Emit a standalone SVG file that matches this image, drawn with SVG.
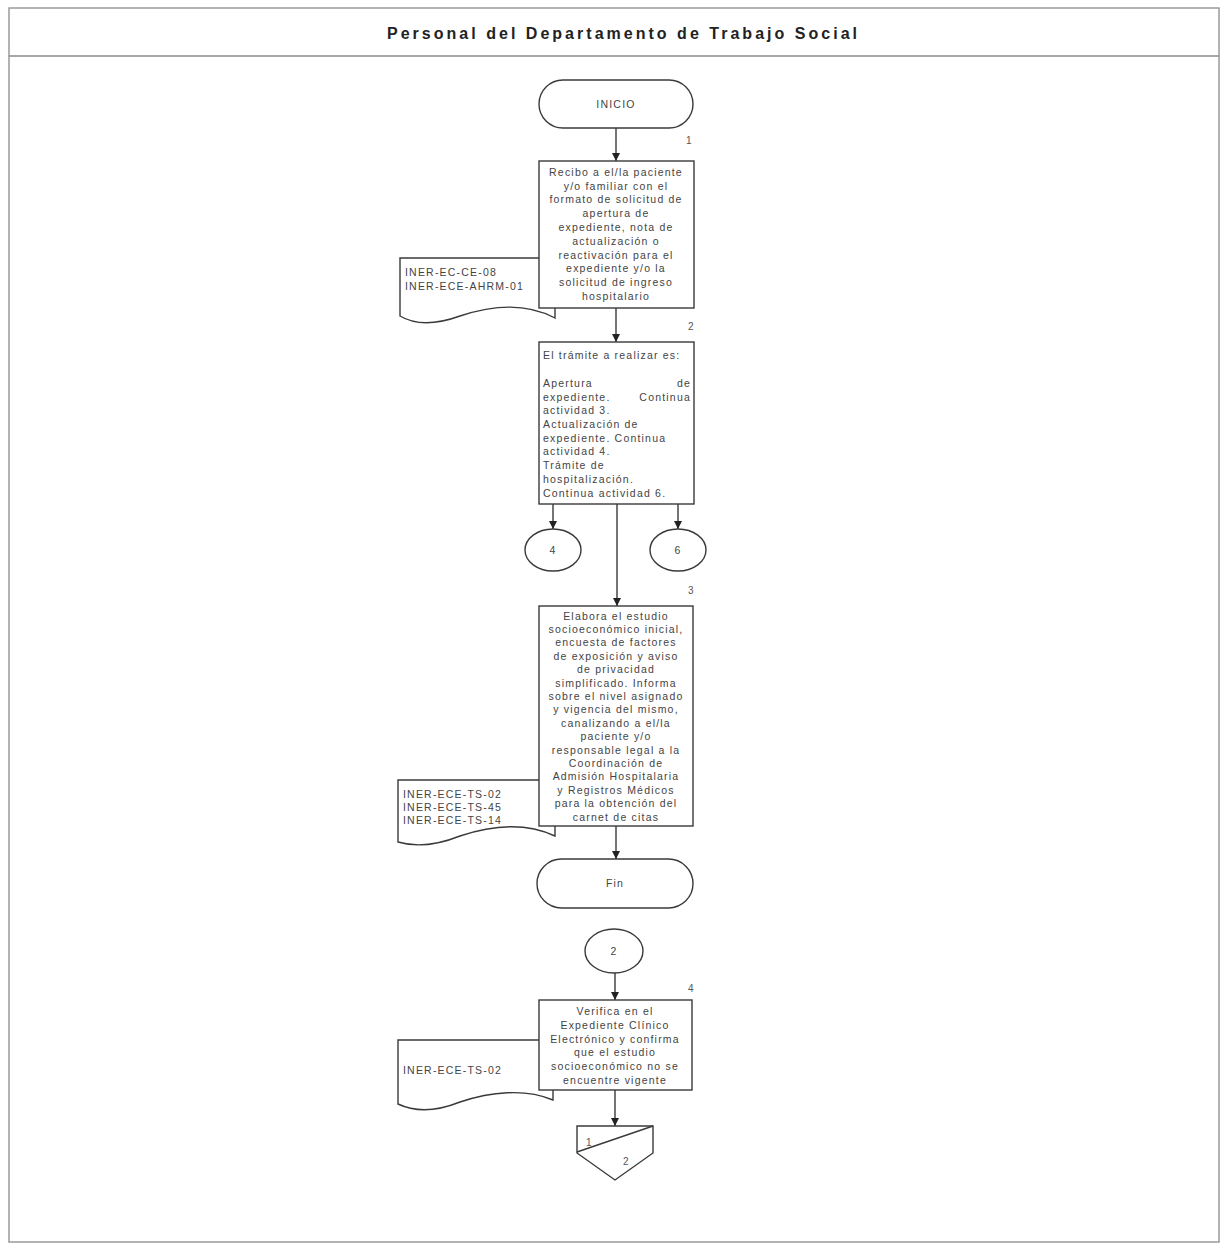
<svg xmlns="http://www.w3.org/2000/svg" width="1222" height="1245" viewBox="0 0 1222 1245">
<style>
.ln{fill:none;stroke:#3a3a3a;stroke-width:1.4}
.sh{fill:#fff;stroke:#3a3a3a;stroke-width:1.4}
.t{font-family:"Liberation Sans",Arial,sans-serif;font-size:10.5px;fill:#444;letter-spacing:1.2px}
.c{text-anchor:middle}
.n{font-family:"Liberation Sans",Arial,sans-serif;font-size:10px;fill:#555}
.title{font-family:"Liberation Sans",Arial,sans-serif;font-size:16px;font-weight:bold;fill:#222}
</style>
<defs>
<marker id="ah" viewBox="0 0 10 10" refX="10" refY="5" markerWidth="8" markerHeight="8" markerUnits="userSpaceOnUse" orient="auto">
<path d="M0,0 L10,5 L0,10 Z" fill="#222"/>
</marker>
</defs>
<rect width="1222" height="1245" fill="#fff"/>
<g id="frame">
<rect x="9" y="8" width="1210" height="1234" fill="none" stroke="#9a9a9a" stroke-width="1.5"/>
<line x1="9" y1="56" x2="1219" y2="56" stroke="#8a8a8a" stroke-width="1.5"/>
<text class="title" x="387" y="39" textLength="470" lengthAdjust="spacing">Personal del Departamento de Trabajo Social</text>
</g>
<g id="doc1">
<path class="sh" d="M400,258 H555 V318 C525,302 490,306 460,316 C435,325 415,325 400,316 Z"/>
<text class="t" x="405" y="276">INER-EC-CE-08</text>
<text class="t" x="405" y="290">INER-ECE-AHRM-01</text>
</g>
<g id="doc3">
<path class="sh" d="M398,780 H555 V836 C525,822 490,826 460,836 C435,846 415,847 398,842 Z"/>
<text class="t" x="403" y="798">INER-ECE-TS-02</text>
<text class="t" x="403" y="811">INER-ECE-TS-45</text>
<text class="t" x="403" y="824">INER-ECE-TS-14</text>
</g>
<g id="doc4">
<path class="sh" d="M398,1040 H553 V1100 C525,1088 490,1092 460,1102 C435,1112 415,1112 398,1104 Z"/>
<text class="t" x="403" y="1074">INER-ECE-TS-02</text>
</g>
<g id="connectors">
<line class="ln" x1="616" y1="128" x2="616" y2="161" marker-end="url(#ah)"/>
<line class="ln" x1="616" y1="308" x2="616" y2="342" marker-end="url(#ah)"/>
<line class="ln" x1="553" y1="504" x2="553" y2="529" marker-end="url(#ah)"/>
<line class="ln" x1="678" y1="504" x2="678" y2="529" marker-end="url(#ah)"/>
<line class="ln" x1="617" y1="504" x2="617" y2="606" marker-end="url(#ah)"/>
<line class="ln" x1="616" y1="826" x2="616" y2="859" marker-end="url(#ah)"/>
<line class="ln" x1="615" y1="973" x2="615" y2="1000" marker-end="url(#ah)"/>
<line class="ln" x1="615" y1="1090" x2="615" y2="1126" marker-end="url(#ah)"/>
</g>
<g id="inicio">
<rect class="sh" x="539" y="80" width="154" height="48" rx="24" ry="24"/>
<text class="t c" x="616" y="108">INICIO</text>
</g>
<g id="act1">
<rect class="sh" x="539" y="161" width="155" height="147"/>
<text class="n" x="686" y="144">1</text>
<text class="t c" x="616" y="176">Recibo a el/la paciente</text>
<text class="t c" x="616" y="190">y/o familiar con el</text>
<text class="t c" x="616" y="203">formato de solicitud de</text>
<text class="t c" x="616" y="217">apertura de</text>
<text class="t c" x="616" y="231">expediente, nota de</text>
<text class="t c" x="616" y="245">actualización o</text>
<text class="t c" x="616" y="259">reactivación para el</text>
<text class="t c" x="616" y="272">expediente y/o la</text>
<text class="t c" x="616" y="286">solicitud de ingreso</text>
<text class="t c" x="616" y="300">hospitalario</text>
</g>
<g id="act2">
<rect class="sh" x="539" y="342" width="155" height="162"/>
<text class="n" x="688" y="330">2</text>
<text class="t" x="543" y="359">El trámite a realizar es:</text>
<text class="t" x="543" y="387">Apertura</text>
<text class="t" x="691" y="387" text-anchor="end">de</text>
<text class="t" x="543" y="401">expediente.</text>
<text class="t" x="691" y="401" text-anchor="end">Continua</text>
<text class="t" x="543" y="414">actividad 3.</text>
<text class="t" x="543" y="428">Actualización de</text>
<text class="t" x="543" y="442">expediente. Continua</text>
<text class="t" x="543" y="455">actividad 4.</text>
<text class="t" x="543" y="469">Trámite de</text>
<text class="t" x="543" y="483">hospitalización.</text>
<text class="t" x="543" y="497">Continua actividad 6.</text>
</g>
<g id="conn4">
<ellipse class="sh" cx="553" cy="550" rx="28" ry="21"/>
<text class="t c" x="553" y="554">4</text>
</g>
<g id="conn6">
<ellipse class="sh" cx="678" cy="550" rx="28" ry="21"/>
<text class="t c" x="678" y="554">6</text>
</g>
<g id="act3">
<rect class="sh" x="539" y="606" width="154" height="220"/>
<text class="n" x="688" y="594">3</text>
<text class="t c" x="616" y="620">Elabora el estudio</text>
<text class="t c" x="616" y="633">socioeconómico inicial,</text>
<text class="t c" x="616" y="646">encuesta de factores</text>
<text class="t c" x="616" y="660">de exposición y aviso</text>
<text class="t c" x="616" y="673">de privacidad</text>
<text class="t c" x="616" y="687">simplificado. Informa</text>
<text class="t c" x="616" y="700">sobre el nivel asignado</text>
<text class="t c" x="616" y="713">y vigencia del mismo,</text>
<text class="t c" x="616" y="727">canalizando a el/la</text>
<text class="t c" x="616" y="740">paciente y/o</text>
<text class="t c" x="616" y="754">responsable legal a la</text>
<text class="t c" x="616" y="767">Coordinación de</text>
<text class="t c" x="616" y="780">Admisión Hospitalaria</text>
<text class="t c" x="616" y="794">y Registros Médicos</text>
<text class="t c" x="616" y="807">para la obtención del</text>
<text class="t c" x="616" y="821">carnet de citas</text>
</g>
<g id="fin">
<rect class="sh" x="537" y="859" width="156" height="49" rx="24.5" ry="24.5"/>
<text class="t c" x="615" y="887">Fin</text>
</g>
<g id="conn2">
<ellipse class="sh" cx="614" cy="951" rx="29" ry="22"/>
<text class="t c" x="614" y="955">2</text>
</g>
<g id="act4">
<rect class="sh" x="539" y="1000" width="153" height="90"/>
<text class="n" x="688" y="992">4</text>
<text class="t c" x="615" y="1015">Verifica en el</text>
<text class="t c" x="615" y="1029">Expediente Clínico</text>
<text class="t c" x="615" y="1043">Electrónico y confirma</text>
<text class="t c" x="615" y="1056">que el estudio</text>
<text class="t c" x="615" y="1070">socioeconómico no se</text>
<text class="t c" x="615" y="1084">encuentre vigente</text>
</g>
<g id="offpage">
<path class="sh" d="M577,1126 H653 V1153 L615,1180 L577,1153 Z"/>
<line class="ln" x1="577" y1="1152" x2="653" y2="1126"/>
<text class="n" x="586" y="1146">1</text>
<text class="n" x="623" y="1165">2</text>
</g>
</svg>
